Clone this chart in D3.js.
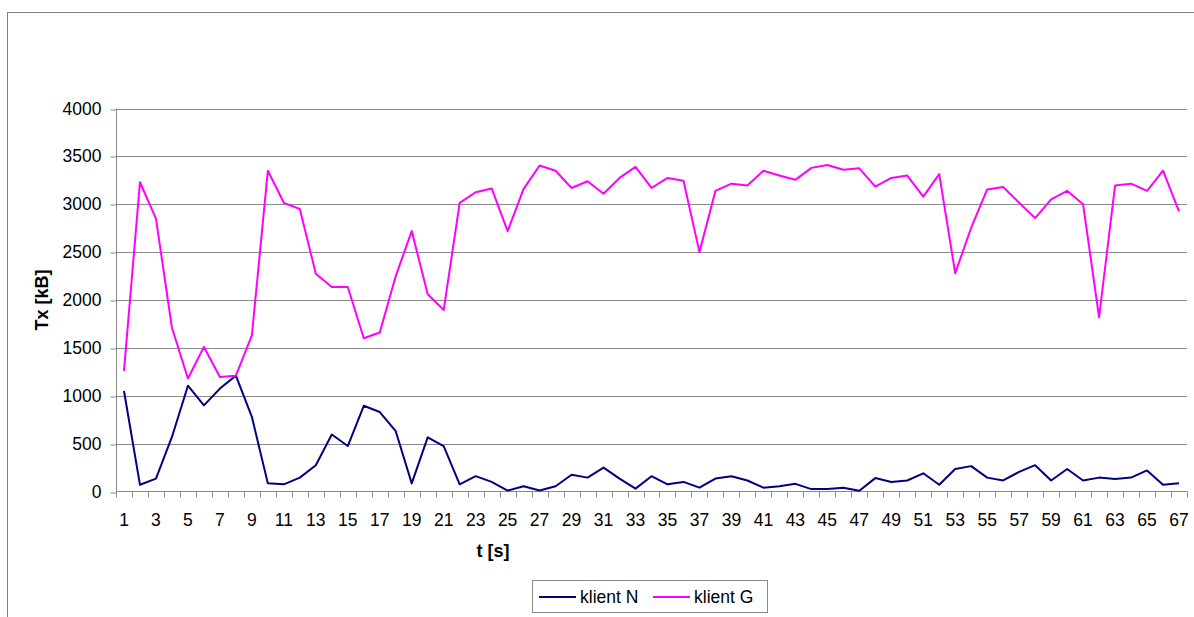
<!DOCTYPE html>
<html>
<head>
<meta charset="utf-8">
<script src="https://cdn.jsdelivr.net/npm/d3@7"></script>
<style>
  html, body { margin: 0; padding: 0; background: #fff; }
  svg { display: block; font-family: "Liberation Sans", Arial, sans-serif; }
</style>
</head>
<body>
<svg id="chart" width="1194" height="617"></svg>
<script>
const categories = d3.range(1, 68);
const klientN = [1050, 70, 135, 570, 1105, 900, 1075, 1210, 780, 85,
  75, 145, 275, 595, 475, 895, 830, 630, 85, 565,
  475, 75, 160, 100, 10, 55, 10, 55, 175, 145,
  250, 135, 30, 160, 75, 100, 40, 135, 160, 115,
  40, 55, 80, 25, 25, 40, 7, 140, 100, 115,
  190, 70, 235, 265, 145, 115, 205, 275, 115, 235,
  115, 145, 130, 145, 220, 70, 85];
const klientG = [1260, 3230, 2850, 1710, 1180, 1510, 1195, 1210, 1630, 3350,
  3015, 2950, 2275, 2135, 2135, 1600, 1660, 2250, 2720, 2060,
  1895, 3015, 3125, 3165, 2720, 3160, 3405, 3350, 3170, 3240,
  3110, 3275, 3390, 3170, 3275, 3245, 2500, 3140, 3215, 3195,
  3350, 3300, 3255, 3380, 3410, 3360, 3375, 3185, 3275, 3300,
  3080, 3315, 2280, 2755, 3155, 3180, 3015, 2855, 3050, 3140,
  3000, 1820, 3195, 3215, 3140, 3350, 2925];
const yTicks = [0, 500, 1000, 1500, 2000, 2500, 3000, 3500, 4000];
const seriesNames = ["klient N", "klient G"];
const seriesColors = ["#000080", "#FF00FF"];

(function () {
const svg = d3.select("#chart");
const pl = 116, pr = 1187, pt = 108.5, pb = 491.5;

// outer chart border
svg.append("rect").attr("x", 7.5).attr("y", 12.5).attr("width", 1200).attr("height", 700)
  .attr("fill", "none").attr("stroke", "#7f7f7f").attr("stroke-width", 1);

const x = d3.scaleBand().domain(categories).range([pl, pr]);
const y = d3.scaleLinear().domain([0, 4000]).range([pb, pt]);

// gridlines
svg.append("g").selectAll("line").data(yTicks.filter(d => d > 0)).join("line")
  .attr("x1", pl).attr("x2", pr)
  .attr("y1", d => Math.round(y(d)) + 0.5).attr("y2", d => Math.round(y(d)) + 0.5)
  .attr("stroke", "#8a8a8a").attr("stroke-width", 1);

// y axis
const yAxis = d3.axisLeft(y).tickValues(yTicks).tickFormat(d3.format("d")).tickSize(6).tickPadding(9);
const gy = svg.append("g").attr("transform", `translate(${pl + 0.5},0)`).call(yAxis);
gy.select(".domain").attr("stroke", "#8a8a8a").attr("d", `M0,${pt}V${pb}`);
gy.selectAll(".tick line").attr("stroke", "#8a8a8a")
  .attr("transform", d => `translate(0,${Math.round(y(d)) + 0.5 - y(d)})`);
gy.selectAll(".tick text").attr("font-size", 17.5).attr("fill", "#000")
  .attr("font-family", "'Liberation Sans', Arial, sans-serif");

// x axis (category)
const gx = svg.append("g").attr("transform", `translate(0,${pb})`);
gx.append("line").attr("x1", pl).attr("x2", pr).attr("y1", 0).attr("y2", 0)
  .attr("stroke", "#8a8a8a");
const bounds = categories.map(c => x(c)).concat([pr]);
gx.selectAll("line.tk").data(bounds).join("line").attr("class", "tk")
  .attr("x1", d => Math.round(d) + 0.5).attr("x2", d => Math.round(d) + 0.5)
  .attr("y1", 0).attr("y2", 6).attr("stroke", "#8a8a8a");
gx.selectAll("text").data(categories.filter(c => c % 2 === 1)).join("text")
  .attr("x", d => x(d) + x.bandwidth() / 2).attr("y", 34)
  .attr("text-anchor", "middle").attr("font-size", 17.5).attr("fill", "#000")
  .text(d => d);

// axis titles
svg.append("text").attr("transform", "translate(48,300) rotate(-90)")
  .attr("text-anchor", "middle").attr("font-size", 18).attr("font-weight", "bold")
  .text("Tx [kB]");
svg.append("text").attr("x", 493).attr("y", 557)
  .attr("text-anchor", "middle").attr("font-size", 18).attr("font-weight", "bold")
  .text("t [s]");

// lines
const line = d3.line().x((d, i) => x(categories[i]) + x.bandwidth() / 2).y(d => y(d));
[klientN, klientG].forEach((s, i) => {
  svg.append("path").datum(s).attr("d", line).attr("fill", "none")
    .attr("stroke", seriesColors[i]).attr("stroke-width", 2).attr("stroke-linejoin", "round");
});

// legend
const lg = svg.append("g");
lg.append("rect").attr("x", 532.5).attr("y", 580.5).attr("width", 235).attr("height", 32)
  .attr("fill", "#fff").attr("stroke", "#8a8a8a");
const legendX = [539, 653];
seriesNames.forEach((n, i) => {
  lg.append("line").attr("x1", legendX[i]).attr("x2", legendX[i] + 37)
    .attr("y1", 597).attr("y2", 597).attr("stroke", seriesColors[i]).attr("stroke-width", 2);
  lg.append("text").attr("x", legendX[i] + 41).attr("y", 603).attr("font-size", 17.5)
    .attr("fill", "#000").text(n);
});
})();
</script>
</body>
</html>
